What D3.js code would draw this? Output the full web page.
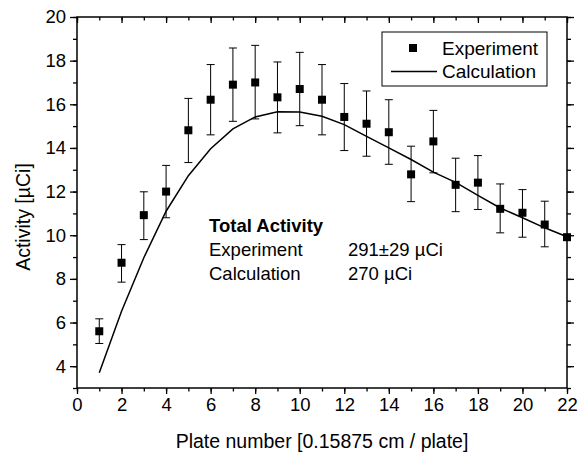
<!DOCTYPE html>
<html>
<head>
<meta charset="utf-8">
<script src="https://cdn.jsdelivr.net/npm/d3@7"></script>
<style>
	body { margin: 0; background: #fff; }
	text { font-family: Arial, "Liberation Sans", sans-serif; fill: #000; }
</style>
</head>
<body>
<div id="chart"></div>
<script>
	//Plate numbers and measured / calculated activity
	const plates = [1, 2, 3, 4, 5, 6, 7, 8, 9, 10, 11, 12, 13, 14, 15, 16, 17, 18, 19, 20, 21, 22];
	const expValues = [5.6, 8.74, 10.92, 12.0, 14.81, 16.21, 16.9, 17.0, 16.32, 16.7, 16.21, 15.42, 15.11, 14.72, 12.79, 14.3, 12.31, 12.41, 11.21, 11.03, 10.49, 9.91];
	const expLow = [5.04, 7.85, 9.8, 10.8, 13.33, 14.6, 15.22, 15.33, 14.69, 15.02, 14.6, 13.88, 13.62, 13.25, 11.54, 12.86, 11.08, 11.18, 10.11, 9.91, 9.47, null];
	const expHigh = [6.17, 9.57, 11.99, 13.2, 16.27, 17.82, 18.58, 18.7, 17.94, 18.38, 17.82, 16.95, 16.61, 16.21, 14.08, 15.72, 13.53, 13.65, 12.35, 12.09, 11.56, null];
	const calcValues = [3.7, 6.52, 8.97, 11.1, 12.73, 13.96, 14.87, 15.42, 15.66, 15.65, 15.45, 15.07, 14.53, 14.0, 13.47, 12.89, 12.42, 11.83, 11.25, 10.8, 10.34, 9.93];

	const xTicks = [0, 2, 4, 6, 8, 10, 12, 14, 16, 18, 20, 22];
	const yTicks = [4, 6, 8, 10, 12, 14, 16, 18, 20];

	const width = 580, height = 453;
	const plotLeft = 77, plotRight = 567, plotTop = 17, plotBottom = 388;

	let svg = d3.select('#chart')
		.append('svg')
		.attr('width', width)
		.attr('height', height);

	let xScale = d3.scaleLinear().domain([0, 22]).range([plotLeft, plotRight]);
	let yScale = d3.scaleLinear().domain([3, 20]).range([plotBottom, plotTop]);

	let xMinor = d3.range(0, 23, 1);
	let yMinor = d3.range(3, 20.5, 1);

	//Helper to draw one tick set on a side; inward ticks use negative size
	function ticks(axisFn, scale, values, size, pos, labels) {
		let axis = axisFn(scale).tickValues(values).tickSize(size).tickPadding(4);
		if (!labels) axis.tickFormat('');
		let g = svg.append('g')
			.attr('transform', axisFn === d3.axisBottom ? `translate(0, ${pos})` : `translate(${pos}, 0)`)
			.call(axis);
		g.select('.domain').remove();
		g.selectAll('line').attr('stroke', '#000').attr('stroke-width', 1.3);
		g.selectAll('text').style('font-size', '18.5px').attr('fill', '#000');
		return g;
	}

	//Bottom / left outward, top / right inward
	ticks(d3.axisBottom, xScale, xMinor, 3.5, plotBottom, false);
	ticks(d3.axisBottom, xScale, xTicks, 6, plotBottom, true);
	ticks(d3.axisLeft, yScale, yMinor, 4, plotLeft, false);
	ticks(d3.axisLeft, yScale, yTicks, 7, plotLeft, true);
	ticks(d3.axisBottom, xScale, xMinor, 3.5, plotTop, false);
	ticks(d3.axisBottom, xScale, xTicks, 6, plotTop, false);
	ticks(d3.axisLeft, yScale, yMinor, -4, plotRight, false);
	ticks(d3.axisLeft, yScale, yTicks, -7, plotRight, false);

	//Frame
	svg.append('rect')
		.attr('x', plotLeft).attr('y', plotTop)
		.attr('width', plotRight - plotLeft).attr('height', plotBottom - plotTop)
		.attr('fill', 'none').attr('stroke', '#000').attr('stroke-width', 1.5);

	//Axis titles
	svg.append('text')
		.attr('x', (plotLeft + plotRight) / 2).attr('y', 448)
		.attr('text-anchor', 'middle')
		.style('font-size', '19.5px')
		.text('Plate number [0.15875 cm / plate]');

	svg.append('text')
		.attr('transform', `translate(30, 217) rotate(-90)`)
		.attr('text-anchor', 'middle')
		.style('font-size', '19.5px')
		.text('Activity [\u00b5Ci]');

	//Calculation curve
	let line = d3.line()
		.x((d, i) => xScale(plates[i]))
		.y(d => yScale(d));

	svg.append('path')
		.datum(calcValues)
		.attr('d', line)
		.attr('fill', 'none')
		.attr('stroke', '#000')
		.attr('stroke-width', 1.5);

	//Experiment points with error bars
	let pts = plates.map((p, i) => ({ p, v: expValues[i], lo: expLow[i], hi: expHigh[i] }));
	let bars = svg.append('g').selectAll('g')
		.data(pts.filter(d => d.lo != null))
		.enter().append('g')
		.attr('stroke', '#000').attr('stroke-width', 1);

	bars.append('line')
		.attr('x1', d => xScale(d.p)).attr('x2', d => xScale(d.p))
		.attr('y1', d => yScale(d.lo)).attr('y2', d => yScale(d.hi));
	bars.append('line')
		.attr('x1', d => xScale(d.p) - 4).attr('x2', d => xScale(d.p) + 4)
		.attr('y1', d => yScale(d.lo)).attr('y2', d => yScale(d.lo));
	bars.append('line')
		.attr('x1', d => xScale(d.p) - 4).attr('x2', d => xScale(d.p) + 4)
		.attr('y1', d => yScale(d.hi)).attr('y2', d => yScale(d.hi));

	svg.append('g').selectAll('rect')
		.data(pts)
		.enter().append('rect')
		.attr('x', d => xScale(d.p) - 4)
		.attr('y', d => yScale(d.v) - 4)
		.attr('width', 8).attr('height', 8)
		.attr('fill', '#000');

	//Legend
	let legend = svg.append('g');
	legend.append('rect')
		.attr('x', 382).attr('y', 32).attr('width', 165).attr('height', 54)
		.attr('fill', '#fff').attr('stroke', '#000').attr('stroke-width', 1);
	legend.append('rect')
		.attr('x', 409).attr('y', 44).attr('width', 8).attr('height', 8).attr('fill', '#000');
	legend.append('line')
		.attr('x1', 391).attr('x2', 437).attr('y1', 71.5).attr('y2', 71.5)
		.attr('stroke', '#000').attr('stroke-width', 1.5);
	legend.append('text').attr('x', 442).attr('y', 55).style('font-size', '19px').text('Experiment');
	legend.append('text').attr('x', 442).attr('y', 78).style('font-size', '19px').text('Calculation');

	//Total activity annotation
	let note = svg.append('g').style('font-size', '18.5px');
	note.append('text').attr('x', 209).attr('y', 232).style('font-weight', 'bold').text('Total Activity');
	note.append('text').attr('x', 209).attr('y', 256).text('Experiment');
	note.append('text').attr('x', 209).attr('y', 280).text('Calculation');
	note.append('text').attr('x', 348).attr('y', 256).text('291\u00b129 \u00b5Ci');
	note.append('text').attr('x', 348).attr('y', 280).text('270 \u00b5Ci');
</script>
</body>
</html>
